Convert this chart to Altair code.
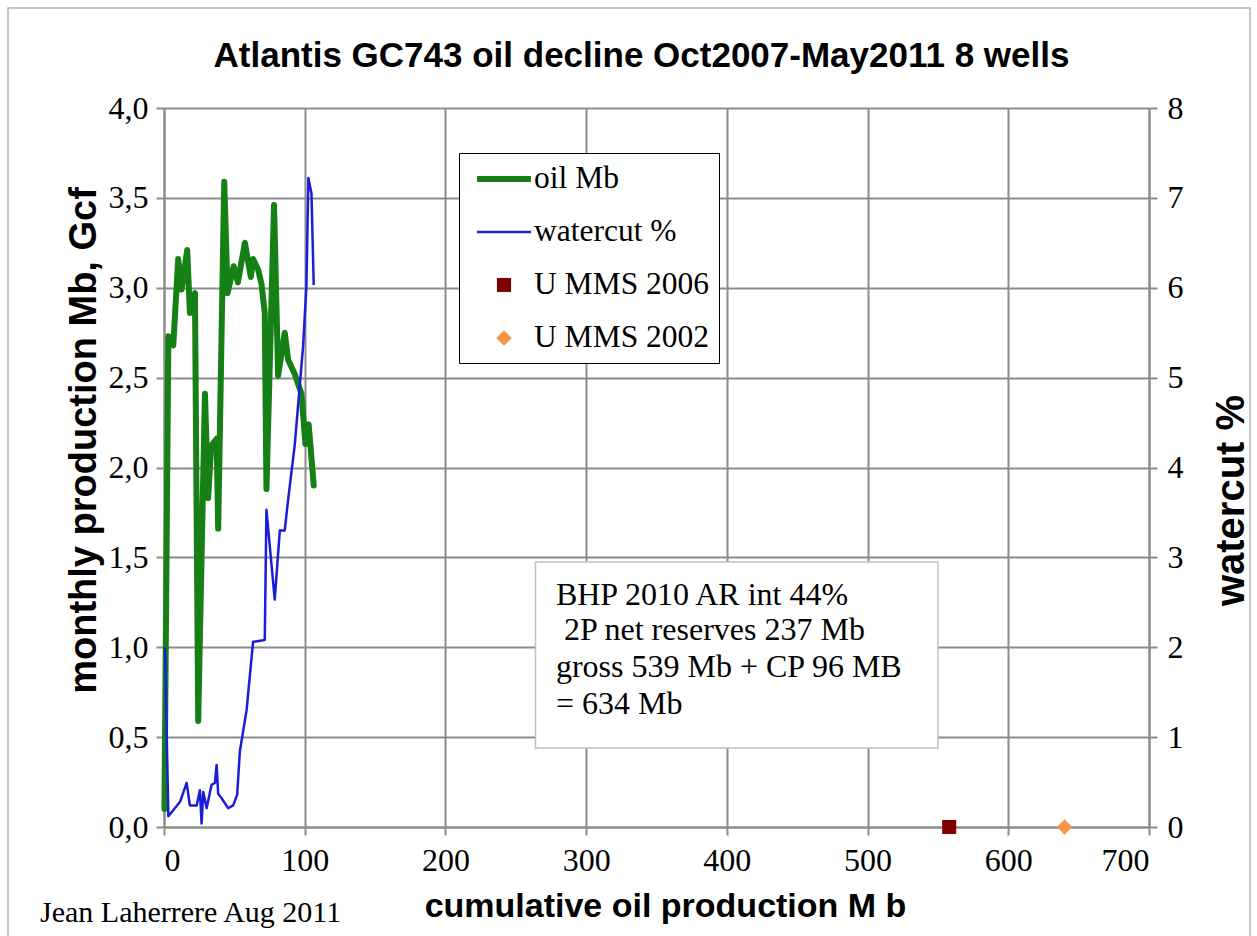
import altair as alt
import pandas as pd

# ---------------- data ----------------
oil_cum = [0.3, 3.1, 6.6, 10.1, 12.5, 16.5, 18.4, 22.0, 24.3, 29.1, 31.4, 33.5, 37.4, 38.5,
           42.8, 45.2, 49.5, 52.5, 57.5, 61.7, 63.3, 66.9, 69.3, 71.6, 72.8, 78.2, 81.1,
           85.8, 88.2, 92.9, 97.7, 100.5, 102.8, 106.4]
oil_mb = [0.1, 2.73, 2.68, 3.16, 2.99, 3.21, 2.86, 2.97, 0.59, 2.41, 1.83, 2.12, 2.16, 1.66,
          3.59, 2.97, 3.12, 3.03, 3.25, 3.06, 3.16, 3.10, 3.02, 2.86, 1.88, 3.46, 2.51,
          2.75, 2.60, 2.52, 2.41, 2.13, 2.24, 1.90]

wc_cum = [0.7, 3.1, 11.4, 16.1, 18.4, 23.2, 25.5, 26.7, 27.9, 30.3, 33.8, 36.2, 37.4, 38.5,
          40.9, 45.6, 49.2, 52.0, 53.9, 58.7, 63.3, 71.6, 72.8, 78.7, 82.3, 85.8, 88.2,
          92.9, 98.8, 101.2, 102.6, 104.8, 106.4]
wc_pct = [2.0, 0.12, 0.28, 0.49, 0.24, 0.24, 0.41, 0.04, 0.39, 0.21, 0.47, 0.49, 0.69, 0.37,
          0.32, 0.21, 0.24, 0.36, 0.84, 1.30, 2.06, 2.08, 3.53, 2.53, 3.30, 3.30, 3.64,
          4.25, 5.34, 6.01, 7.22, 7.05, 6.03]

ref_names = ["U MMS 2006", "U MMS 2002"]
ref_cum = [558, 640]
ref_val = [0.0, 0.0]

series_names = ["oil Mb", "watercut %", "U MMS 2006", "U MMS 2002"]
series_colors = ["#168016", "#1c1cdc", "#7f0000", "#f79646"]
# legend / marker shapes (custom paths in the unit box)
series_shapes = [
    "M-1.61,-0.18H1.61V0.18H-1.61Z",
    "M-1.61,-0.075H1.61V0.075H-1.61Z",
    "M-0.42,-0.42H0.42V0.42H-0.42Z",
    "M0,-0.46L0.46,0L0,0.46L-0.46,0Z",
]

note_lines = ["BHP 2010 AR int 44%", "2P net reserves 237 Mb",
              "gross 539 Mb + CP 96 MB", "= 634 Mb"]
note_xs = [278.5, 284.2, 278.5, 278.5]
note_ys = [1.235, 1.040, 0.834, 0.629]
box_x, box_x2, box_y, box_y2 = 264, 550, 1.474, 0.44
credit = "Jean Laherrere Aug 2011"
title_text = "Atlantis GC743 oil decline  Oct2007-May2011 8 wells"

x_ticks = [0, 100, 200, 300, 400, 500, 600, 700]
y_ticks = [0, 0.5, 1, 1.5, 2, 2.5, 3, 3.5, 4]
y2_ticks = [0, 1, 2, 3, 4, 5, 6, 7, 8]

# ---------------- tables ----------------
df_oil = pd.DataFrame({"cum": oil_cum, "val": oil_mb, "series": "oil Mb"})
df_wc = pd.DataFrame({"cum": wc_cum, "wc": wc_pct, "series": "watercut %"})
df_ref = pd.DataFrame({"cum": ref_cum, "val": ref_val, "series": ref_names})
df_box = pd.DataFrame({"x": [box_x], "x2": [box_x2], "y": [box_y], "y2": [box_y2]})
df_note = pd.DataFrame({"x": note_xs, "y": note_ys, "t": note_lines})
df_credit = pd.DataFrame({"t": [credit]})
df_frame = pd.DataFrame({"k": [0]})

GRID = "#8c8c8c"
SERIF = "Liberation Serif"
SANS = "Liberation Sans"

x_axis = alt.Axis(values=x_ticks, format="d", title="cumulative oil production M b",
                  titleFont=SANS, titleFontSize=34, titleFontWeight="bold", titleColor="black",
                  titleX=501, titleY=79, titleBaseline="middle", titleAlign="center",
                  labelFont=SERIF, labelFontSize=32, labelColor="black", labelPadding=10,
                  grid=True, gridColor=GRID, gridWidth=2, domainColor=GRID, domainWidth=2,
                  tickColor=GRID, tickWidth=2, tickSize=8)
x_scale = alt.Scale(domain=[0, 700], nice=False)
X = alt.X("cum:Q", scale=x_scale, axis=x_axis)

y_axis = alt.Axis(values=y_ticks, labelExpr="replace(format(datum.value, '.1f'), '.', ',')",
                  title="monthly production Mb, Gcf", titleFont=SANS, titleFontSize=38,
                  titleFontWeight="bold", titleColor="black", titleAngle=270,
                  titleX=-80, titleY=332, titleAlign="center", titleBaseline="middle",
                  labelFont=SERIF, labelFontSize=32, labelColor="black", labelPadding=8,
                  grid=True, gridColor=GRID, gridWidth=2, domainColor=GRID, domainWidth=2,
                  tickColor=GRID, tickWidth=2, tickSize=8)
y_scale = alt.Scale(domain=[0, 4], nice=False)

y2_axis = alt.Axis(orient="right", values=y2_ticks, format="d", title="watercut %",
                   titleFont=SANS, titleFontSize=40, titleFontWeight="bold", titleColor="black",
                   titleAngle=270, titleX=82, titleY=392, titleAlign="center",
                   titleBaseline="middle", labelFont=SERIF, labelFontSize=32, labelColor="black",
                   labelPadding=10, grid=False, domainColor=GRID, domainWidth=2,
                   tickColor=GRID, tickWidth=2, tickSize=8)

legend = alt.Legend(orient="none", legendX=295, legendY=45, title=None, fillColor="white",
                    strokeColor="black", padding=9, symbolSize=1122, symbolStrokeWidth=0,
                    symbolOffset=19, labelFont=SERIF, labelFontSize=31.5, labelColor="black",
                    labelOffset=13, rowPadding=20, labelLimit=500)
col_scale = alt.Scale(domain=series_names, range=series_colors)
shape_scale = alt.Scale(domain=series_names, range=series_shapes)

frame = alt.Chart(df_frame).mark_rect(fill=None, stroke="#b4b4b4", strokeWidth=1.5).encode(
    x=alt.value(-156), x2=alt.value(1086), y=alt.value(-100), y2=alt.value(840))

box = alt.Chart(df_box).mark_rect(fill="white", stroke="#c0c0c0", strokeWidth=1.5).encode(
    x=alt.X("x:Q", scale=x_scale, axis=x_axis), x2="x2:Q",
    y=alt.Y("y:Q", scale=y_scale, axis=y_axis), y2="y2:Q")

note = alt.Chart(df_note).mark_text(align="left", baseline="alphabetic", font=SERIF,
                                    fontSize=32, color="black").encode(
    x=alt.X("x:Q", scale=x_scale, axis=x_axis),
    y=alt.Y("y:Q", scale=y_scale, axis=y_axis), text="t:N")

oil = alt.Chart(df_oil).mark_line(strokeWidth=6, strokeJoin="round", strokeCap="round").encode(
    x=X, y=alt.Y("val:Q", scale=y_scale, axis=y_axis),
    stroke=alt.Stroke("series:N", scale=col_scale, legend=legend))

pts = alt.Chart(df_ref).mark_point(filled=True, size=1122, opacity=1, strokeWidth=0).encode(
    x=X, y=alt.Y("val:Q", scale=y_scale, axis=y_axis),
    fill=alt.Fill("series:N", scale=col_scale, legend=legend),
    shape=alt.Shape("series:N", scale=shape_scale, legend=legend))

credit_txt = alt.Chart(df_credit).mark_text(align="left", baseline="alphabetic", font=SERIF,
                                            fontSize=30, color="black").encode(
    x=alt.value(-124), y=alt.value(814), text="t:N")

left = alt.layer(frame, box, note, oil, pts, credit_txt)

wc = alt.Chart(df_wc).mark_line(strokeWidth=2.5, strokeJoin="round").encode(
    x=X, y=alt.Y("wc:Q", scale=alt.Scale(domain=[0, 8], nice=False), axis=y2_axis),
    stroke=alt.Stroke("series:N", scale=col_scale, legend=legend))

chart = alt.layer(left, wc).resolve_scale(y="independent").properties(
    width=985, height=719,
    title=alt.Title(title_text, font=SANS, fontSize=35, fontWeight="bold", color="black",
                    anchor="middle", dx=-15, offset=-67),
    autosize=alt.AutoSizeParams(type="none"),
    padding={"left": 164, "top": 108, "right": 108, "bottom": 109},
).configure_view(stroke=None).configure(background="white")

chart.save("out.html", embed_options={"renderer": "svg", "actions": False})
